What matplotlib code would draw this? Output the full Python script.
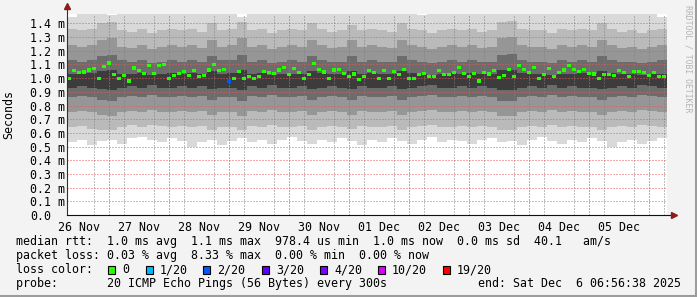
import matplotlib
matplotlib.use("Agg")
import matplotlib.pyplot as plt
import matplotlib.dates as mdates
from matplotlib.patches import Rectangle
import numpy as np
import pandas as pd

W, H = 697, 297
start = pd.Timestamp("2025-11-26 06:56:38")
end = pd.Timestamp("2025-12-06 06:56:38")

# median rtt (ms), one value per 2 h step
median_ms = [
    1.00, 1.055, 1.04, 1.045, 1.06, 1.07, 1.00, 1.085, 1.11, 1.025,
    1.00, 1.02, 0.98, 1.075, 1.055, 1.035, 1.09, 1.035, 1.095, 1.10,
    1.00, 1.02, 1.035, 1.05, 1.02, 1.055, 1.01, 1.02, 1.06, 1.10,
    1.055, 1.065, 0.98, 1.00, 1.05, 1.00, 1.01, 1.00, 1.01, 1.05,
    1.04, 1.035, 1.06, 1.08, 1.025, 1.07, 1.04, 1.00, 1.025, 1.105,
    1.065, 1.045, 1.00, 1.06, 1.065, 1.035, 1.01, 1.03, 0.99, 1.01,
    1.055, 1.04, 1.00, 1.055, 1.00, 1.05, 1.025, 1.065, 0.995, 1.00,
    1.025, 1.035, 1.01, 1.01, 1.055, 1.025, 1.025, 1.04, 1.08, 1.035,
    1.01, 1.035, 0.98, 1.04, 1.03, 1.055, 1.005, 1.02, 1.065, 1.01,
    1.09, 1.065, 1.04, 1.08, 1.00, 1.025, 1.07, 1.01, 1.04, 1.06,
    1.09, 1.065, 1.05, 1.065, 1.035, 1.03, 0.995, 1.025, 1.025, 1.02,
    1.055, 1.04, 1.01, 1.05, 1.05, 1.04, 1.02, 1.04, 1.01, 1.01,
]
# steps with packet loss (step index -> loss level)
loss_steps = {32: "2/20"}

# smoke: ping distribution per 4 h step (ms)
s_min = [0.53, 0.55, 0.51, 0.54, 0.55, 0.52, 0.56, 0.57, 0.55, 0.53,
         0.56, 0.54, 0.50, 0.53, 0.55, 0.51, 0.54, 0.56, 0.53, 0.55,
         0.52, 0.55, 0.57, 0.54, 0.52, 0.55, 0.53, 0.56, 0.54, 0.51,
         0.55, 0.53, 0.56, 0.54, 0.52, 0.55, 0.57, 0.53, 0.55, 0.54,
         0.52, 0.55, 0.56, 0.53, 0.54, 0.51, 0.55, 0.57, 0.54, 0.52,
         0.55, 0.53, 0.56, 0.54, 0.50, 0.53, 0.55, 0.52, 0.54, 0.56]
s_p10 = [0.64, 0.65, 0.63, 0.62, 0.62, 0.64, 0.66, 0.64, 0.66, 0.65,
         0.64, 0.65, 0.64, 0.65, 0.62, 0.64, 0.64, 0.62, 0.65, 0.64,
         0.66, 0.64, 0.64, 0.65, 0.62, 0.64, 0.65, 0.64, 0.63, 0.65,
         0.64, 0.64, 0.65, 0.62, 0.64, 0.65, 0.66, 0.64, 0.64, 0.65,
         0.64, 0.65, 0.64, 0.62, 0.62, 0.64, 0.65, 0.64, 0.66, 0.64,
         0.65, 0.64, 0.64, 0.62, 0.64, 0.65, 0.64, 0.66, 0.65, 0.64]
s_p25 = [0.75, 0.76, 0.75, 0.73, 0.72, 0.75, 0.76, 0.75, 0.77, 0.75,
         0.75, 0.76, 0.75, 0.76, 0.73, 0.75, 0.75, 0.72, 0.76, 0.75,
         0.77, 0.75, 0.75, 0.76, 0.73, 0.75, 0.76, 0.75, 0.73, 0.76,
         0.75, 0.75, 0.76, 0.73, 0.75, 0.76, 0.77, 0.75, 0.75, 0.76,
         0.75, 0.76, 0.75, 0.72, 0.72, 0.75, 0.76, 0.75, 0.77, 0.75,
         0.76, 0.75, 0.75, 0.73, 0.75, 0.76, 0.75, 0.77, 0.76, 0.75]
s_p35 = [0.86, 0.87, 0.86, 0.84, 0.83, 0.86, 0.87, 0.86, 0.88, 0.86,
         0.86, 0.87, 0.86, 0.87, 0.84, 0.86, 0.86, 0.83, 0.87, 0.86,
         0.88, 0.86, 0.86, 0.87, 0.84, 0.86, 0.87, 0.86, 0.84, 0.87,
         0.86, 0.86, 0.87, 0.84, 0.86, 0.87, 0.88, 0.86, 0.86, 0.87,
         0.86, 0.87, 0.86, 0.83, 0.83, 0.86, 0.87, 0.86, 0.88, 0.86,
         0.87, 0.86, 0.86, 0.84, 0.86, 0.87, 0.86, 0.88, 0.87, 0.86]
s_p45 = [0.93, 0.94, 0.93, 0.92, 0.91, 0.93, 0.94, 0.93, 0.95, 0.93,
         0.93, 0.94, 0.93, 0.94, 0.92, 0.93, 0.93, 0.91, 0.94, 0.93,
         0.95, 0.93, 0.93, 0.94, 0.92, 0.93, 0.94, 0.93, 0.92, 0.94,
         0.93, 0.93, 0.94, 0.92, 0.93, 0.94, 0.95, 0.93, 0.93, 0.94,
         0.93, 0.94, 0.93, 0.91, 0.91, 0.93, 0.94, 0.93, 0.95, 0.93,
         0.94, 0.93, 0.93, 0.92, 0.93, 0.94, 0.93, 0.95, 0.94, 0.93]
s_p55 = [1.03, 1.04, 1.04, 1.05, 1.06, 1.03, 1.03, 1.04, 1.02, 1.03,
         1.04, 1.03, 1.04, 1.03, 1.05, 1.03, 1.04, 1.06, 1.03, 1.04,
         1.02, 1.03, 1.03, 1.03, 1.05, 1.04, 1.03, 1.03, 1.05, 1.03,
         1.04, 1.03, 1.03, 1.05, 1.04, 1.03, 1.02, 1.03, 1.04, 1.03,
         1.04, 1.03, 1.03, 1.06, 1.06, 1.04, 1.03, 1.03, 1.02, 1.03,
         1.03, 1.04, 1.03, 1.05, 1.04, 1.03, 1.03, 1.02, 1.03, 1.03]
s_p65 = [1.13, 1.12, 1.13, 1.16, 1.17, 1.13, 1.12, 1.13, 1.11, 1.12,
         1.13, 1.12, 1.13, 1.12, 1.16, 1.13, 1.13, 1.17, 1.12, 1.13,
         1.11, 1.12, 1.13, 1.12, 1.16, 1.13, 1.12, 1.12, 1.16, 1.12,
         1.13, 1.12, 1.12, 1.16, 1.13, 1.12, 1.11, 1.12, 1.13, 1.12,
         1.13, 1.12, 1.12, 1.17, 1.18, 1.13, 1.12, 1.12, 1.11, 1.13,
         1.12, 1.13, 1.12, 1.16, 1.13, 1.12, 1.12, 1.11, 1.12, 1.13]
s_p75 = [1.24, 1.23, 1.24, 1.28, 1.29, 1.23, 1.22, 1.24, 1.21, 1.23,
         1.24, 1.23, 1.24, 1.22, 1.28, 1.23, 1.24, 1.29, 1.23, 1.24,
         1.21, 1.23, 1.24, 1.23, 1.28, 1.24, 1.22, 1.23, 1.28, 1.23,
         1.24, 1.23, 1.22, 1.28, 1.24, 1.23, 1.21, 1.23, 1.24, 1.23,
         1.24, 1.22, 1.23, 1.29, 1.30, 1.24, 1.23, 1.23, 1.21, 1.24,
         1.23, 1.24, 1.23, 1.28, 1.24, 1.22, 1.23, 1.21, 1.23, 1.24]
s_p90 = [1.36, 1.35, 1.36, 1.40, 1.41, 1.35, 1.34, 1.36, 1.33, 1.35,
         1.36, 1.35, 1.36, 1.34, 1.40, 1.35, 1.36, 1.41, 1.35, 1.36,
         1.33, 1.35, 1.36, 1.35, 1.40, 1.36, 1.34, 1.35, 1.39, 1.35,
         1.36, 1.35, 1.34, 1.40, 1.36, 1.35, 1.33, 1.35, 1.36, 1.35,
         1.36, 1.34, 1.35, 1.41, 1.42, 1.36, 1.35, 1.35, 1.33, 1.36,
         1.35, 1.36, 1.35, 1.40, 1.36, 1.34, 1.35, 1.33, 1.35, 1.36]
s_max = [1.45, 1.48, 1.48, 1.48, 1.46, 1.48, 1.48, 1.48, 1.48, 1.48,
         1.48, 1.48, 1.48, 1.48, 1.48, 1.48, 1.48, 1.45, 1.48, 1.48,
         1.48, 1.48, 1.48, 1.48, 1.48, 1.48, 1.48, 1.48, 1.48, 1.48,
         1.48, 1.48, 1.48, 1.48, 1.48, 1.46, 1.48, 1.48, 1.48, 1.48,
         1.48, 1.48, 1.48, 1.48, 1.48, 1.48, 1.48, 1.48, 1.48, 1.48,
         1.48, 1.48, 1.48, 1.48, 1.48, 1.48, 1.48, 1.48, 1.48, 1.45]

loss_labels = ["0", "1/20", "2/20", "3/20", "4/20", "10/20", "19/20"]
loss_colors = ["#26ff00", "#00b8ff", "#0059ff", "#5e00ff", "#7e00ff", "#dd00ff", "#ff0000"]
loss_box_x = [108, 146, 203, 262, 320, 378, 443]

y_ticks = [0.0, 0.1, 0.2, 0.3, 0.4, 0.5, 0.6, 0.7, 0.8, 0.9, 1.0, 1.1, 1.2, 1.3, 1.4]
y_labels = ["0.0"] + ["%.1f m" % v for v in y_ticks[1:]]
day_labels = ["26 Nov", "27 Nov", "28 Nov", "29 Nov", "30 Nov",
              "01 Dec", "02 Dec", "03 Dec", "04 Dec", "05 Dec"]

line_rtt = "median rtt:  1.0 ms avg  1.1 ms max  978.4 us min  1.0 ms now  0.0 ms sd  40.1   am/s"
line_loss = "packet loss: 0.03 % avg  8.33 % max  0.00 % min  0.00 % now"
line_probe = "probe:       20 ICMP Echo Pings (56 Bytes) every 300s"
line_end = "end: Sat Dec  6 06:56:38 2025"

MONO = "DejaVu Sans Mono"
FS = 8.4
plt.rcParams["font.family"] = MONO

fig = plt.figure(figsize=(W / 100, H / 100), dpi=100, facecolor="#f3f3f3")
ax = fig.add_axes([66.5 / W, 1 - 215 / H, 600 / W, 201 / H])
ax.set_facecolor("white")

# smoke
smoke_t = mdates.date2num(pd.date_range(start, periods=len(s_min) + 1, freq="4h"))
bands = [
    (s_min, s_max, "#d9d9d9"),
    (s_p10, s_p90, "#bababa"),
    (s_p25, s_p75, "#969696"),
    (s_p35, s_p65, "#6c6c6c"),
    (s_p45, s_p55, "#3c3c3c"),
]
for lo, hi, c in bands:
    ax.fill_between(smoke_t, lo + lo[-1:], hi + hi[-1:], step="post",
                    color=c, lw=0, zorder=1)

# median line, coloured by loss
med_t = mdates.date2num(pd.date_range(start, periods=len(median_ms), freq="2h"))
bar_h = 0.024
colors = [loss_colors[loss_labels.index(loss_steps.get(i, "0"))]
          for i in range(len(median_ms))]
ax.bar(med_t, bar_h, bottom=np.array(median_ms) - bar_h / 2, width=1 / 12,
       align="edge", color=colors, lw=0, zorder=5)

ax.set_xlim(mdates.date2num(start), mdates.date2num(end))
ax.set_ylim(0, 1.469)

# grid
red = (0.9, 0.35, 0.35, 0.45)
grey = (0.5, 0.5, 0.5, 0.35)
dots = (0, (1, 2))
noons = pd.date_range("2025-11-26 12:00", periods=10, freq="D")
ax.set_xticks(mdates.date2num(noons))
ax.set_xticklabels(day_labels)
ax.set_xticks(mdates.date2num(pd.date_range("2025-11-26 12:00", "2025-12-06 06:00", freq="6h")),
              minor=True)
ax.set_yticks(y_ticks)
ax.set_yticklabels(y_labels)
ax.grid(which="minor", axis="x", color=grey, ls=dots, lw=0.72, zorder=3)
ax.grid(which="major", axis="y", color=red, ls=dots, lw=0.72, zorder=3)
for d in pd.date_range("2025-11-27", periods=10, freq="D"):
    ax.axvline(mdates.date2num(d), color=red, ls=dots, lw=0.72, zorder=3)
ax.set_axisbelow(False)

ax.tick_params(axis="x", which="both", length=0, pad=4, labelsize=FS)
ax.tick_params(axis="y", length=0, pad=26.3, labelsize=FS)
for lab in ax.get_yticklabels():
    lab.set_horizontalalignment("left")

for s in ax.spines.values():
    s.set_visible(False)
# axes with arrows
ax.plot([0, 0], [0, 1.035], color="#303030", lw=0.8, transform=ax.transAxes,
        clip_on=False, zorder=6)
ax.plot([0, 1.01], [0, 0], color="#101010", lw=0.8, transform=ax.transAxes,
        clip_on=False, zorder=6)
ax.plot(0, 1.04, marker="^", ms=4.5, color="#8b1c1c", transform=ax.transAxes,
        clip_on=False, zorder=7)
ax.plot(1.012, 0, marker=">", ms=4.5, color="#8b1c1c", transform=ax.transAxes,
        clip_on=False, zorder=7)

ax.set_ylabel("Seconds", fontsize=FS)
ax.yaxis.set_label_coords(-51 / 600, 0.5)


def fx(x):
    return x / W


def fy(y):
    return 1 - y / H


fig.text(fx(16), fy(245.5), line_rtt, fontsize=FS, va="baseline")
fig.text(fx(16), fy(259.3), line_loss, fontsize=FS, va="baseline")
fig.text(fx(16), fy(273.3), "loss color:", fontsize=FS, va="baseline")
for bx, lab, c in zip(loss_box_x, loss_labels, loss_colors):
    fig.add_artist(Rectangle((fx(bx), fy(273.5)), 7 / W, 8 / H, facecolor=c,
                             edgecolor="black", lw=0.8, transform=fig.transFigure))
    fig.text(fx(bx + 14), fy(273.3), lab, fontsize=FS, va="baseline")
fig.text(fx(16), fy(287.2), line_probe, fontsize=FS, va="baseline")
fig.text(fx(681), fy(287.2), line_end, fontsize=FS, va="baseline", ha="right")

fig.text(fx(688), fy(5), "RRDTOOL / TOBI OETIKER", fontsize=5.9, color="#b4b4b4",
         rotation=270, ha="center", va="top")

# frame shading
fig.add_artist(plt.Line2D([0, 1], [1.5 / H, 1.5 / H], color="#9c9c9c", lw=2.2,
                          transform=fig.transFigure))
fig.add_artist(plt.Line2D([1 - 1.5 / W, 1 - 1.5 / W], [0, 1], color="#9c9c9c", lw=2.2,
                          transform=fig.transFigure))

fig.savefig("out.png", dpi=100, facecolor=fig.get_facecolor())
